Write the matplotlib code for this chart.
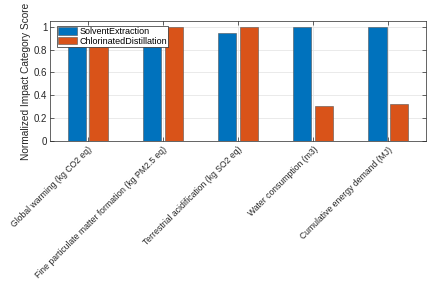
import matplotlib
matplotlib.use("Agg")
import matplotlib.pyplot as plt
import numpy as np

categories = ["Global warming (kg CO2 eq)",
              "Fine particulate matter formation (kg PM2.5 eq)",
              "Terrestrial acidification (kg SO2 eq)",
              "Water consumption (m3)",
              "Cumulative energy demand (MJ)"]
solvent = [1.0, 1.0, 0.945, 1.0, 1.0]
chlorinated = [0.97, 1.0, 1.0, 0.31, 0.325]
series_names = ["SolventExtraction", "ChlorinatedDistillation"]

plt.rcParams['font.family'] = ['Liberation Sans', 'DejaVu Sans']

fig = plt.figure(figsize=(4.32, 2.86), dpi=100)
ax = fig.add_axes([0.1157, 0.507, 0.8704, 0.4196])

x = np.arange(1, len(categories) + 1)
w = 0.24
off = 0.145
ax.bar(x - off, solvent, w, color='#0072BD', edgecolor='#555555', linewidth=0.4,
       label=series_names[0], zorder=3)
ax.bar(x + off, chlorinated, w, color='#D95319', edgecolor='#555555', linewidth=0.4,
       label=series_names[1], zorder=3)

ax.set_xlim(0.5, 5.5)
ax.set_ylim(0, 1.05)
ax.set_yticks(np.arange(0, 1.01, 0.2))
ax.set_yticklabels(["0", "0.2", "0.4", "0.6", "0.8", "1"])
ax.set_xticks(x)
ax.set_xticklabels(categories, rotation=45, ha='right', rotation_mode='anchor',
                   fontsize=6.2, color='#262626')
ax.tick_params(axis='y', labelsize=7, labelcolor='#262626', pad=2)
ax.tick_params(axis='x', pad=3)
ax.tick_params(direction='in', length=3, width=0.5, color='#262626',
               top=True, right=True)
ax.grid(True, color='#e6e6e6', linewidth=0.6, zorder=0)
ax.set_axisbelow(True)
for s in ax.spines.values():
    s.set_color('#262626')
    s.set_linewidth(0.5)

ax.set_ylabel("Normalized Impact Category Score", fontsize=7.3, color='#262626',
              labelpad=2)

leg = ax.legend(loc='upper left', bbox_to_anchor=(0.018, 0.962), fontsize=6.5,
                frameon=True, fancybox=False, borderpad=0.15, labelspacing=0.1,
                handlelength=2.1, handleheight=0.9, handletextpad=0.25,
                borderaxespad=0)
leg.get_frame().set_edgecolor('#262626')
leg.get_frame().set_linewidth(0.5)
leg.get_frame().set_alpha(1)

fig.savefig("out.png", dpi=100)
